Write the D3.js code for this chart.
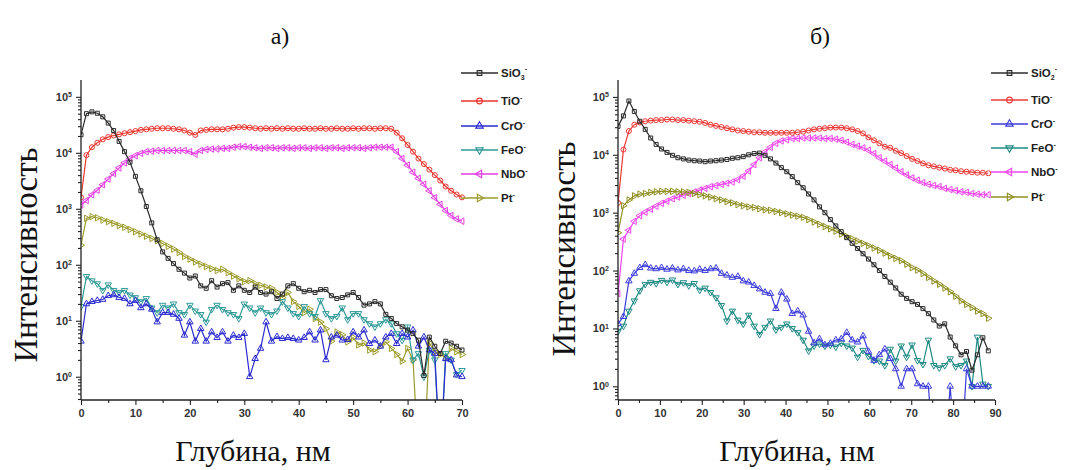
<!DOCTYPE html>
<html><head><meta charset="utf-8">
<script src="https://cdn.jsdelivr.net/npm/d3@7"></script>
<style>
body{margin:0;background:#fff;}
svg{display:block;}
</style></head>
<body>
<svg id="chart" width="1065" height="470"></svg>
<script>
// ---------- data: panel а ----------
const depthA = [0,1,2,3,4,5,6,7,8,9,10,11,12,13,14,15,16,17,18,19,20,21,22,23,24,25,26,27,28,29,30,31,32,33,34,35,36,37,38,39,40,41,42,43,44,45,46,47,48,49,50,51,52,53,54,55,56,57,58,59,60,61,62,63,64,65,66,67,68,69,70];
const sio2A = [21000,50000,54000,51000,44000,34000,25000,16000,10500,6800,3800,2100,1100,560,280,170,130,105,83,71,58,63,42,38,52,40,46,48,35,42,35,32,40,32,30,33,25,30,42,46,38,33,35,32,36,36,28,25,26,29,32,26,19,20,22,20,13,11,8.9,7.8,6.8,5.9,4.5,1.05,5.1,3.5,2.6,4.3,4.0,3.5,3.0];
const tioA = [1600,9100,12600,15100,17400,19100,20400,21400,22400,23400,24500,25700,26300,26900,27500,27500,27500,26900,26300,25100,22900,20900,25100,25700,26300,26300,26300,26900,28200,28800,28800,28200,27500,26900,27500,26900,27500,26900,27500,26900,26900,27500,26900,26900,27500,26900,26900,27500,26900,26900,27500,26900,27500,27500,26900,27500,27500,26900,22900,18200,13800,10500,7900,6300,5000,4000,3200,2500,2100,1800,1600];
const croA = [4.3,20,22,23,24,28,29,26,25,20,23,17,20,16,9.5,14,14,13,11,5.5,9.5,4.3,7.2,4.3,6.3,5.0,6.3,4.3,5.5,5.0,5.9,1.0,2.1,3.2,9.5,4.3,5.2,4.8,5.0,4.8,4.5,5.0,6.3,4.5,6.8,2.0,5.1,5.5,4.5,4.6,6.3,5.1,6.8,3.9,4.5,3.5,5.1,5.9,3.9,5.9,5.1,6.8,3.5,5.1,3.0,2.6,0,2.1,2.0,1.07,1.0];
const feoA = [18,62,52,46,35,44,35,32,35,29,26,22,25,17,14,19,17,20,14,13,19,15,13,9.5,16,19,16,14,13,11,20,17,14,17,14,13,15,22,17,13.5,12,18,13.5,12,23,13.5,11,12,17,10.5,13.5,13.5,10.5,8.9,7.8,8.9,10.5,8.9,5.9,4.5,7.8,2.0,2.6,1.0,3.0,2.0,0,2.6,2.0,1.1,1.3];
const nboA = [1170,1410,1780,2140,2690,3390,4270,5370,6610,7940,8900,9800,10500,10700,11000,11000,11000,11000,11000,11000,10500,9500,11000,11500,11700,11700,12000,12000,12600,12900,12900,12600,12300,12000,12300,12300,12000,12300,12300,12000,12300,12300,12000,12300,12300,12000,12300,12300,12000,12300,12300,12300,12000,12300,12600,12600,12600,12600,10500,7900,6000,4500,3500,2750,2100,1580,1200,930,760,660,600];
const ptA = [224,676,724,692,631,589,550,501,468,427,389,355,324,295,269,240,214,191,166,141,126,112,102,93,85,79,83,72,63,56,50,52,46,43,40,38,32,26,32,22,18,14,16,11,9.5,7.2,4.3,6.3,5.6,4.2,5.0,3.7,4.0,3.0,2.8,3.5,4.2,3.2,2.5,1.9,3.2,2.0,0,0,4.0,2.8,2.5,2.2,3.2,2.8,2.5];

// ---------- data: panel б ----------
const depthB = [0,1.3,2.6,3.9,5.2,6.5,7.8,9.1,10.4,11.7,13,14.3,15.6,16.9,18.2,19.5,20.8,22.1,23.4,24.7,26,27.3,28.6,29.9,31.2,32.5,33.8,35.1,36.4,37.7,39,40.3,41.6,42.9,44.2,45.5,46.8,48.1,49.4,50.7,52,53.3,54.6,55.9,57.2,58.5,59.8,61.1,62.4,63.7,65,66.3,67.6,68.9,70.2,71.5,72.8,74.1,75.4,76.7,78,79.3,80.6,81.9,83.2,84.5,85.8,87.1,88.4];
const sio2B = [31000,47000,85000,56000,38000,27500,19500,15100,12600,11000,9800,8900,8500,8100,7900,7800,7600,7800,7900,8100,8300,8700,8900,9300,10000,10500,10700,9800,8500,7200,6000,5100,4200,3300,2700,2100,1660,1260,1000,760,590,470,370,295,240,195,158,126,100,79,63,50,39,33,29,26,22,18,14,11,12,7.1,5.0,3.5,4.0,1.9,3.5,6.9,4.1];
const tioB = [1480,12300,25700,33100,36300,38000,38900,39800,39800,40700,40700,39800,39800,38900,38000,37200,35500,33100,31600,30200,28800,27500,26300,25700,25100,24500,24500,24000,24000,24000,24000,24000,24000,24500,25100,26300,27500,28200,28800,29500,29500,29500,28800,27500,25700,23400,20000,17800,15800,13800,13200,11700,10700,9500,8500,7800,7100,6600,6300,6000,5800,5500,5400,5200,5100,5000,4900,4900,4800];
const croB = [12,16,66,89,112,126,110,107,112,105,110,102,107,100,98,105,100,107,110,89,83,76,79,66,63,55,48,42,40,22,42,32,18,20,17,8.9,5.6,6.6,5.2,5.5,6.3,6.6,8.5,6.3,5.8,7.4,4.0,2.8,3.5,4.4,3.0,2.0,1.0,2.0,2.0,1.1,1.0,1.0,0,0,0,1.0,0,0,2.0,1.0,1.0,1.0,1.0];
const feoB = [8.9,11,20,30,45,58,63,60,68,63,69,58,62,55,60,46,50,42,34,25,13.5,20,14,12,17,11,7.9,10.5,13.5,9.5,10.5,12,10,8.5,6.3,4.1,5.0,5.4,5.0,5.2,4.8,5.6,5.0,4.6,3.2,4.2,3.3,2.8,2.75,2.3,4.4,2.75,5.0,3.2,5.2,2.8,2.4,6.3,2.3,2.1,2.3,3.0,2.2,2.3,2.75,1.0,7.1,1.1,1.0];
const nboB = [40,350,500,710,890,1020,1150,1290,1450,1580,1740,1860,2000,2140,2290,2450,2630,2820,2950,3090,3240,3390,3720,4270,5250,6760,8900,11200,13500,15800,17400,18200,19100,19100,19500,19500,19500,19500,19100,19100,18600,17800,16600,15100,14100,13200,12000,10500,8900,7800,6800,5900,5100,4500,4000,3630,3310,3090,2950,2820,2630,2510,2400,2290,2240,2140,2090,2040,2040];
const ptB = [450,1320,1660,1950,2090,2140,2240,2290,2340,2340,2340,2290,2290,2240,2140,2040,1950,1860,1740,1660,1550,1480,1380,1320,1260,1230,1170,1120,1100,1050,1000,955,910,870,830,760,690,630,575,525,480,427,389,355,324,295,269,245,224,200,178,162,148,129,112,102,89,76,66,58,50,43,36,30,26,23,20,18,15];

// ---------- labels ----------
const seriesNames = ["SiO2","TiO","CrO","FeO","NbO","Pt"];
const legendLabelsA = [["SiO","3","-"],["TiO","","-"],["CrO","","-"],["FeO","","-"],["NbO","","-"],["Pt","","-"]];
const legendLabelsB = [["SiO","2","-"],["TiO","","-"],["CrO","","-"],["FeO","","-"],["NbO","","-"],["Pt","","-"]];
const xTicksA = [0,10,20,30,40,50,60,70];
const xTicksB = [0,10,20,30,40,50,60,70,80,90];
const yTickExps = [0,1,2,3,4,5];
const panelTitles = ["а)","б)"];
const yTitle = "Интенсивность";
const xTitle = "Глубина, нм";

// ---------- drawing ----------
const svg = d3.select("#chart");
const colorsA = ["#2b2b2b","#e8352e","#2a2ad0","#2f9a98","#e33de3","#9c9c2c"];
const colorsB = ["#2b2b2b","#ea3a36","#3b3bdc","#1f8a84","#ee45ee","#8f8f22"];
const symbols = [
  {t:d3.symbolSquare, r:0, s:16},
  {t:d3.symbolCircle, r:0, s:20},
  {t:d3.symbolTriangle, r:0, s:18},
  {t:d3.symbolTriangle, r:180, s:18},
  {t:d3.symbolTriangle, r:-90, s:18},
  {t:d3.symbolTriangle, r:90, s:18}
];
const serif = "'Liberation Serif','Times New Roman',serif";
const sans = "Arial, 'Liberation Sans', sans-serif";

function drawPanel(cfg){
  const g = svg.append("g");
  const x = d3.scaleLinear().domain(cfg.xDomain).range([cfg.x0, cfg.x1]);
  const y = d3.scaleLog().domain(cfg.yDomain).range([cfg.y0, cfg.y1]);
  const clipId = "clip" + cfg.id;
  svg.append("clipPath").attr("id", clipId).append("rect")
    .attr("x", cfg.x0).attr("y", cfg.y1).attr("width", cfg.x1 + 8 - cfg.x0).attr("height", cfg.y0 - cfg.y1);

  const yv = v => v > 0 ? y(v) : cfg.y0 + 60;
  const plot = g.append("g").attr("clip-path", `url(#${clipId})`);
  const order = [4,1,5,3,2,0];
  order.forEach(si => {
    const vals = cfg.series[si];
    const pts = cfg.depth.map((d,i)=>[x(d), yv(vals[i]), vals[i]]);
    plot.append("path").attr("d", d3.line()(pts.map(p=>[p[0],p[1]])))
      .attr("fill","none").attr("stroke", cfg.colors[si]).attr("stroke-width",1.2);
    const sym = symbols[si];
    plot.append("g").selectAll("path").data(pts.filter(p=>p[2]>0)).join("path")
      .attr("d", d3.symbol().type(sym.t).size(sym.s))
      .attr("transform", p=>`translate(${p[0]},${p[1]}) rotate(${sym.r})`)
      .attr("fill","none").attr("stroke", cfg.colors[si]).attr("stroke-width",1);
  });

  // axes
  const xAxis = g.append("g").attr("transform",`translate(0,${cfg.y0})`)
    .call(d3.axisBottom(x).tickValues(cfg.xTicks).tickSize(5).tickPadding(4).tickFormat(d3.format("d")));
  const minorX = cfg.xTicks.slice(0,-1).map(t=>t+5);
  g.append("g").attr("transform",`translate(0,${cfg.y0})`)
    .call(d3.axisBottom(x).tickValues(minorX).tickSize(3).tickFormat(""))
    .call(a=>a.select(".domain").remove());
  const yAxis = g.append("g").attr("transform",`translate(${cfg.x0},0)`)
    .call(d3.axisLeft(y).tickValues(yTickExps.map(e=>Math.pow(10,e))).tickSize(5).tickPadding(4).tickFormat(()=>"10"));
  yAxis.selectAll(".tick text").each(function(d,i){
    d3.select(this).append("tspan").attr("dy","-0.5em").attr("font-size","7px").text(yTickExps[i]);
  });
  const minorY = [];
  yTickExps.concat([-1]).forEach(e=>{ for(let k=2;k<10;k++){ const v=k*Math.pow(10,e); if(v>cfg.yDomain[0]&&v<cfg.yDomain[1]) minorY.push(v);} });
  g.append("g").attr("transform",`translate(${cfg.x0},0)`)
    .call(d3.axisLeft(y).tickValues(minorY).tickSize(3).tickFormat(""))
    .call(a=>a.select(".domain").remove());
  g.selectAll(".domain").attr("stroke","#222").attr("stroke-width",1.3);
  g.selectAll(".tick line").attr("stroke","#222").attr("stroke-width",1.1);
  g.selectAll(".tick text").attr("font-family",sans)
    .attr("font-weight","bold").attr("font-size","11px").attr("fill","#333");
  xAxis.select(".domain").attr("d",`M${cfg.x0},0H${cfg.x1}`);
  yAxis.select(".domain").attr("d",`M0,${cfg.y0}V${cfg.y1}`);

  // titles
  g.append("text").attr("x", cfg.titleX).attr("y", 44).attr("text-anchor","middle")
    .attr("font-family",serif).attr("font-size","24px").attr("fill","#111")
    .text(cfg.title);
  g.append("text").attr("transform",`translate(${cfg.yTitleX},${cfg.yTitleY}) rotate(-90)`)
    .attr("text-anchor","middle").attr("font-family",serif)
    .attr("font-size","33px").attr("fill","#111").text(yTitle);
  g.append("text").attr("x", cfg.xTitleX).attr("y", 461).attr("text-anchor","middle")
    .attr("font-family",serif)
    .attr("font-size","30px").attr("fill","#111").text(xTitle);

  // legend
  const lg = g.append("g");
  cfg.legend.forEach((lab,si)=>{
    const ly = cfg.legendY[si];
    lg.append("line").attr("x1",cfg.lx0).attr("x2",cfg.lx1).attr("y1",ly).attr("y2",ly)
      .attr("stroke",cfg.colors[si]).attr("stroke-width",1.3);
    const sym = symbols[si];
    lg.append("path").attr("d", d3.symbol().type(sym.t).size(sym.s+6))
      .attr("transform",`translate(${(cfg.lx0+cfg.lx1)/2},${ly}) rotate(${sym.r})`)
      .attr("fill","none").attr("stroke",cfg.colors[si]).attr("stroke-width",1.1);
    const t = lg.append("text").attr("x",cfg.lx1+3).attr("y",ly+4)
      .attr("font-family",sans).attr("font-weight","bold")
      .attr("font-size","11.5px").attr("fill","#222").text(lab[0]);
    if(lab[1]) t.append("tspan").attr("dy","3").attr("font-size","7px").text(lab[1]);
    t.append("tspan").attr("dy", lab[1] ? "-9" : "-5").attr("font-size","7px").text(lab[2]);
  });
}

drawPanel({id:"A", depth:depthA, series:[sio2A,tioA,croA,feoA,nboA,ptA], colors:colorsA,
  xDomain:[0,70], x0:81, x1:462, yDomain:[0.384,2.0e5], y0:400, y1:80, xTicks:xTicksA,
  title:panelTitles[0], titleX:280, yTitleX:37, yTitleY:255, xTitleX:253,
  legend:legendLabelsA, legendY:[73,101,126,150,174,198], lx0:461, lx1:498});
drawPanel({id:"B", depth:depthB, series:[sio2B,tioB,croB,feoB,nboB,ptB], colors:colorsB,
  xDomain:[0,90], x0:618, x1:995, yDomain:[0.58,1.96e5], y0:400, y1:80, xTicks:xTicksB,
  title:panelTitles[1], titleX:820, yTitleX:575, yTitleY:249, xTitleX:797,
  legend:legendLabelsB, legendY:[73,100,124,148,172,197], lx0:991, lx1:1028});
</script>
</body></html>
